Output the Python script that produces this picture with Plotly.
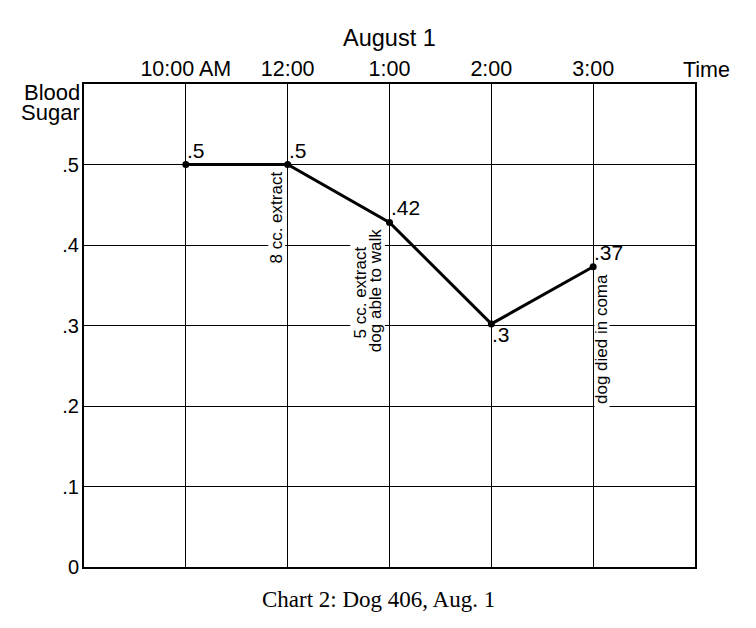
import plotly.graph_objects as go

# ---- data ----
time_labels = ["10:00 AM", "12:00", "1:00", "2:00", "3:00"]
time_pos = [1, 2, 3, 4, 5]
blood_sugar = [0.5, 0.5, 0.428, 0.302, 0.373]
point_labels = [".5", ".5", ".42", ".3", ".37"]
label_below = [False, False, False, True, False]
y_ticks = [0, 0.1, 0.2, 0.3, 0.4, 0.5]
y_ticktext = ["0", ".1", ".2", ".3", ".4", ".5"]

notes = ["8 cc. extract", "5 cc. extract", "dog able to walk", "dog died in coma"]
note_x = [1.894, 2.72, 2.87, 5.075]
note_y = [0.434, 0.341, 0.343, 0.283]
# white gaps behind notes (x0, x1, y0, y1)
gaps = [(1.81, 1.975, 0.37, 0.49), (2.615, 2.955, 0.262, 0.425), (5.012, 5.16, 0.196, 0.37)]

FONT = "Liberation Sans, Arial, sans-serif"

fig = go.Figure()
fig.add_trace(go.Scatter(
    x=time_pos, y=blood_sugar, mode="lines+markers",
    line=dict(color="black", width=3),
    marker=dict(color="black", size=7),
    cliponaxis=False, showlegend=False, hoverinfo="skip",
))

for x, y, t, below in zip(time_pos, blood_sugar, point_labels, label_below):
    fig.add_annotation(x=x, y=y, xref="x", yref="y", text=t, showarrow=False,
                       xanchor="left", yanchor="top" if below else "bottom",
                       xshift=-1, yshift=3 if below else 1,
                       font=dict(family=FONT, size=21, color="black"))

for (x0, x1, y0, y1) in gaps:
    fig.add_shape(type="rect", x0=x0, x1=x1, y0=y0, y1=y1, xref="x", yref="y",
                  fillcolor="white", line=dict(width=0), layer="between")

for t, x, y in zip(notes, note_x, note_y):
    fig.add_annotation(x=x, y=y, xref="x", yref="y", text=t, textangle=-90,
                       showarrow=False, xanchor="center", yanchor="middle",
                       font=dict(family=FONT, size=17, color="black"))

fig.add_annotation(x=6, y=1, xref="x", yref="paper", text="Time", showarrow=False,
                   xanchor="center", yanchor="bottom", xshift=11, yshift=0,
                   font=dict(family=FONT, size=21.5, color="black"))
fig.add_annotation(x=3, y=1, xref="x", yref="paper", text="August 1", showarrow=False,
                   xanchor="center", yanchor="middle", yshift=46,
                   font=dict(family=FONT, size=23.5, color="black"))
fig.add_annotation(x=0, y=1, xref="paper", yref="paper", text="Blood", showarrow=False,
                   xanchor="right", yanchor="middle", xshift=-3, yshift=-8, borderpad=0,
                   font=dict(family=FONT, size=22, color="black"))
fig.add_annotation(x=0, y=1, xref="paper", yref="paper", text="Sugar", showarrow=False,
                   xanchor="right", yanchor="middle", xshift=-3, yshift=-28, borderpad=0,
                   font=dict(family=FONT, size=22, color="black"))
fig.add_annotation(x=(378 - 84) / 611, y=0, xref="paper", yref="paper",
                   text="Chart 2: Dog 406, Aug. 1", showarrow=False,
                   xanchor="center", yanchor="middle", yshift=-32,
                   font=dict(family="Liberation Serif, Times New Roman, serif", size=23, color="black"))

fig.update_xaxes(range=[0, 6], side="top", tickvals=time_pos, ticktext=time_labels,
                 showgrid=True, gridcolor="black", gridwidth=1.1,
                 showline=True, mirror=True, linecolor="black", linewidth=2,
                 zeroline=False, ticks="", ticklabelstandoff=-3,
                 tickfont=dict(family=FONT, size=21.5, color="black"))
fig.update_yaxes(range=[0, 0.6], tickvals=y_ticks, ticktext=y_ticktext,
                 showgrid=True, gridcolor="black", gridwidth=1.1,
                 showline=True, mirror=True, linecolor="black", linewidth=2,
                 zeroline=False, ticks="", ticklabelstandoff=-1,
                 tickfont=dict(family=FONT, size=20, color="black"))

fig.update_layout(width=740, height=612, margin=dict(l=76, r=53, t=76, b=53),
                  plot_bgcolor="white", paper_bgcolor="white", showlegend=False)

fig.write_html("out.html")
